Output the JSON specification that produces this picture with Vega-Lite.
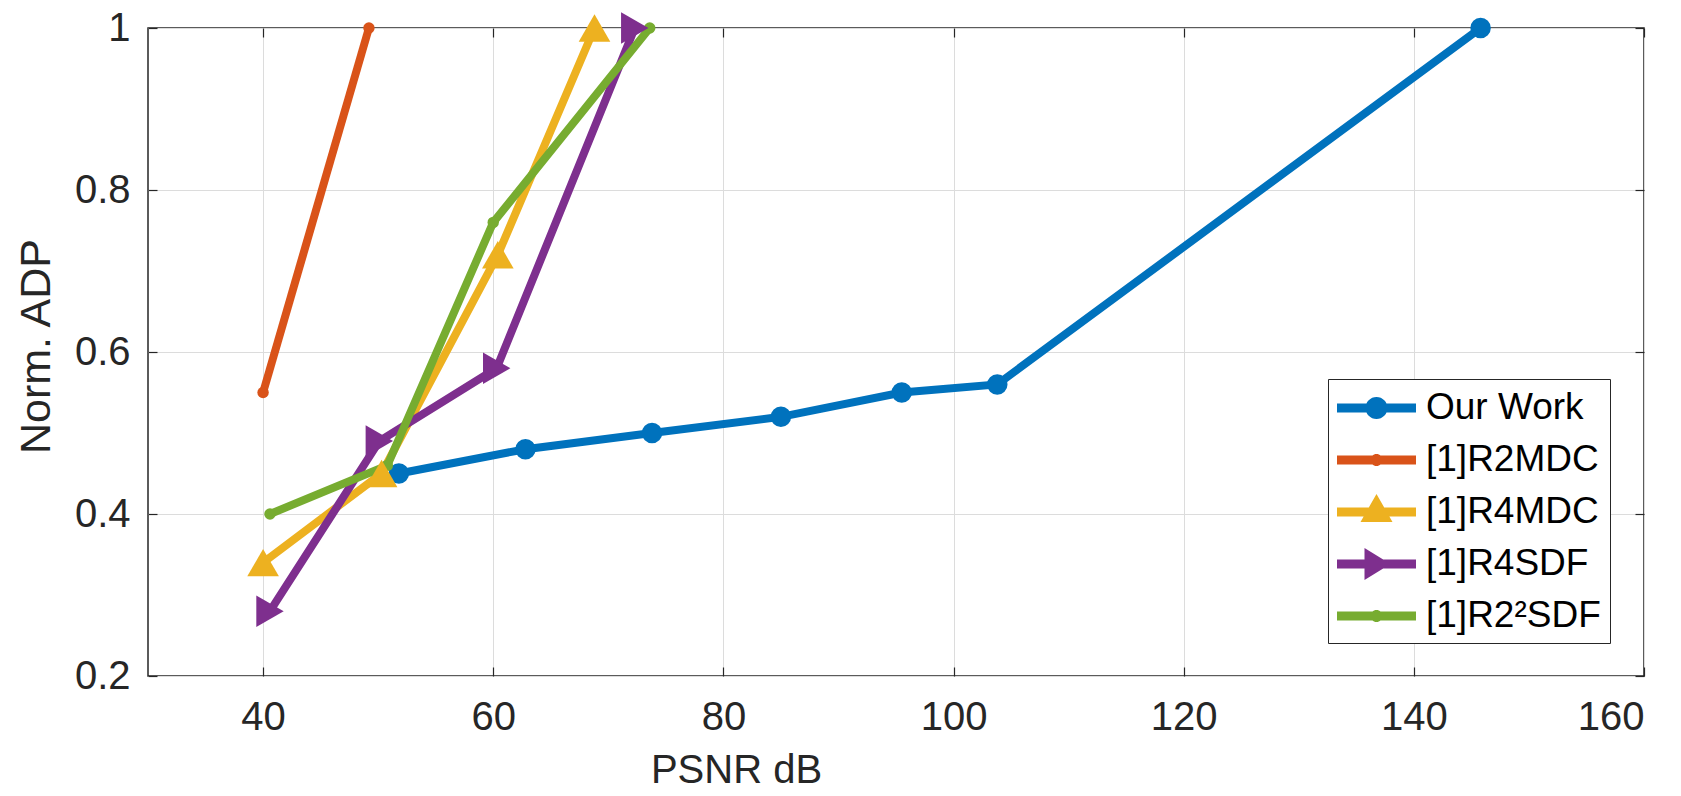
{
  "$schema": "https://vega.github.io/schema/vega-lite/v6.json",
  "width": 1496,
  "height": 648,
  "autosize": {"type": "none"},
  "padding": {"left": 148, "top": 28, "right": 37, "bottom": 120},
  "background": "white",
  "config": {
    "view": {"stroke": "#262626", "strokeWidth": 1.5},
    "font": "Liberation Sans"
  },
  "data": {
    "values": [
      {"series": "Our Work", "psnr": 51.8, "adp": 0.45},
      {"series": "Our Work", "psnr": 62.8, "adp": 0.48},
      {"series": "Our Work", "psnr": 73.8, "adp": 0.50},
      {"series": "Our Work", "psnr": 85.0, "adp": 0.52},
      {"series": "Our Work", "psnr": 95.5, "adp": 0.55},
      {"series": "Our Work", "psnr": 103.8, "adp": 0.56},
      {"series": "Our Work", "psnr": 145.8, "adp": 1.0},
      {"series": "[1]R2MDC", "psnr": 40.0, "adp": 0.55},
      {"series": "[1]R2MDC", "psnr": 49.2, "adp": 1.0},
      {"series": "[1]R4MDC", "psnr": 40.0, "adp": 0.34},
      {"series": "[1]R4MDC", "psnr": 50.3, "adp": 0.45},
      {"series": "[1]R4MDC", "psnr": 60.4, "adp": 0.72},
      {"series": "[1]R4MDC", "psnr": 68.8, "adp": 1.0},
      {"series": "[1]R4SDF", "psnr": 40.6, "adp": 0.28},
      {"series": "[1]R4SDF", "psnr": 50.1, "adp": 0.49},
      {"series": "[1]R4SDF", "psnr": 60.3, "adp": 0.58},
      {"series": "[1]R4SDF", "psnr": 72.3, "adp": 1.0},
      {"series": "[1]R2²SDF", "psnr": 40.6, "adp": 0.40},
      {"series": "[1]R2²SDF", "psnr": 50.8, "adp": 0.46},
      {"series": "[1]R2²SDF", "psnr": 60.0, "adp": 0.76},
      {"series": "[1]R2²SDF", "psnr": 73.6, "adp": 1.0}
    ]
  },
  "resolve": {
    "axis": {"x": "independent", "y": "independent"},
    "legend": {"color": "independent", "shape": "independent"}
  },
  "layer": [
    {
      "mark": {"type": "line", "strokeWidth": 8, "clip": false},
      "encoding": {
        "x": {"field": "psnr", "type": "quantitative",
          "scale": {"domain": [30, 160], "nice": false, "zero": false},
          "axis": {"title": "PSNR dB", "values": [40, 60, 80, 100, 120, 140, 160],
            "grid": true, "gridColor": "#dcdcdc", "gridWidth": 1,
            "domain": false, "tickSize": -9, "tickColor": "#262626", "tickWidth": 1.2,
            "labelFontSize": 40, "labelColor": "#262626", "labelPadding": 30,
            "titleFontSize": 40, "titleFontWeight": "normal", "titleColor": "#262626",
            "titleX": 588, "titleY": 106, "titleBaseline": "alphabetic", "titleAlign": "center"}},
        "y": {"field": "adp", "type": "quantitative",
          "scale": {"domain": [0.2, 1], "nice": false, "zero": false},
          "axis": {"title": "Norm. ADP", "values": [0.2, 0.4, 0.6, 0.8, 1.0], "format": "~g",
            "grid": true, "gridColor": "#dcdcdc", "gridWidth": 1,
            "domain": false, "tickSize": -9, "tickColor": "#262626", "tickWidth": 1.2,
            "labelFontSize": 40, "labelColor": "#262626", "labelPadding": 27,
            "titleFontSize": 43, "titleFontWeight": "normal", "titleColor": "#262626",
            "titleX": -112, "titleY": 318, "titleBaseline": "middle", "titleAlign": "center", "titleAngle": -90}},
        "color": {"field": "series", "type": "nominal",
          "scale": {"domain": ["Our Work", "[1]R2MDC", "[1]R4MDC", "[1]R4SDF", "[1]R2²SDF"],
            "range": ["#0072BD", "#D95319", "#EDB120", "#7E2F8E", "#77AC30"]},
          "legend": null}
      }
    },
    {
      "transform": [{"filter": "datum.series === 'Our Work'"}],
      "mark": {"type": "point", "shape": "circle", "filled": true, "opacity": 1, "size": 420, "clip": false},
      "encoding": {
        "x": {"field": "psnr", "type": "quantitative", "axis": null},
        "y": {"field": "adp", "type": "quantitative", "axis": null},
        "color": {"field": "series", "type": "nominal", "legend": null}
      }
    },
    {
      "transform": [{"filter": "datum.series === '[1]R2MDC' || datum.series === '[1]R2²SDF'"}],
      "mark": {"type": "point", "shape": "circle", "filled": true, "opacity": 1, "size": 130, "clip": false},
      "encoding": {
        "x": {"field": "psnr", "type": "quantitative", "axis": null},
        "y": {"field": "adp", "type": "quantitative", "axis": null},
        "color": {"field": "series", "type": "nominal", "legend": null}
      }
    },
    {
      "transform": [{"filter": "datum.series === '[1]R4MDC'"}],
      "mark": {"type": "point", "shape": "triangle-up", "filled": true, "opacity": 1, "size": 1000, "clip": false},
      "encoding": {
        "x": {"field": "psnr", "type": "quantitative", "axis": null},
        "y": {"field": "adp", "type": "quantitative", "axis": null},
        "color": {"field": "series", "type": "nominal", "legend": null}
      }
    },
    {
      "transform": [{"filter": "datum.series === '[1]R4SDF'"}],
      "mark": {"type": "point", "shape": "triangle-right", "filled": true, "opacity": 1, "size": 1000, "clip": false},
      "encoding": {
        "x": {"field": "psnr", "type": "quantitative", "axis": null},
        "y": {"field": "adp", "type": "quantitative", "axis": null},
        "color": {"field": "series", "type": "nominal", "legend": null}
      }
    },
    {
      "mark": {"type": "point", "filled": true, "opacity": 0, "size": 10, "clip": false},
      "encoding": {
        "x": {"field": "psnr", "type": "quantitative",
          "axis": {"orient": "top", "title": null, "labels": false, "grid": false, "domain": false,
            "values": [40, 60, 80, 100, 120, 140, 160], "tickSize": -9, "tickColor": "#262626", "tickWidth": 1.2}},
        "y": {"field": "adp", "type": "quantitative",
          "axis": {"orient": "right", "title": null, "labels": false, "grid": false, "domain": false,
            "values": [0.2, 0.4, 0.6, 0.8, 1.0], "tickSize": -9, "tickColor": "#262626", "tickWidth": 1.2}},
        "color": {"field": "series", "type": "nominal",
          "legend": {"title": null, "orient": "none", "legendX": 1180, "legendY": 351,
            "strokeColor": "#262626", "fillColor": "white", "padding": 9,
            "symbolSize": 1600, "symbolOpacity": 1, "symbolStrokeWidth": 0,
            "labelFontSize": 37, "labelColor": "#000000", "labelOffset": 49, "rowPadding": 14,
            "labelLimit": 400}},
        "shape": {"field": "series", "type": "nominal",
          "scale": {"domain": ["Our Work", "[1]R2MDC", "[1]R4MDC", "[1]R4SDF", "[1]R2²SDF"],
            "range": [
              "M-1,-0.22H2.95V0.22H-1Z M1.525,0A0.55,0.55,0,1,1,0.425,0A0.55,0.55,0,1,1,1.525,0Z",
              "M-1,-0.22H2.95V0.22H-1Z M1.275,0A0.3,0.3,0,1,1,0.675,0A0.3,0.3,0,1,1,1.275,0Z",
              "M-1,-0.22H2.95V0.22H-1Z M0.975,-0.9L1.775,0.5L0.175,0.5Z",
              "M-1,-0.22H2.95V0.22H-1Z M0.375,-0.8L1.675,0L0.375,0.8Z",
              "M-1,-0.22H2.95V0.22H-1Z M1.275,0A0.3,0.3,0,1,1,0.675,0A0.3,0.3,0,1,1,1.275,0Z"
            ]},
          "legend": {"title": null, "orient": "none", "legendX": 1180, "legendY": 351,
            "strokeColor": "#262626", "fillColor": "white", "padding": 9,
            "symbolSize": 1600, "symbolOpacity": 1, "symbolStrokeWidth": 0,
            "labelFontSize": 37, "labelColor": "#000000", "labelOffset": 49, "rowPadding": 14,
            "labelLimit": 400}}
      }
    }
  ]
}
